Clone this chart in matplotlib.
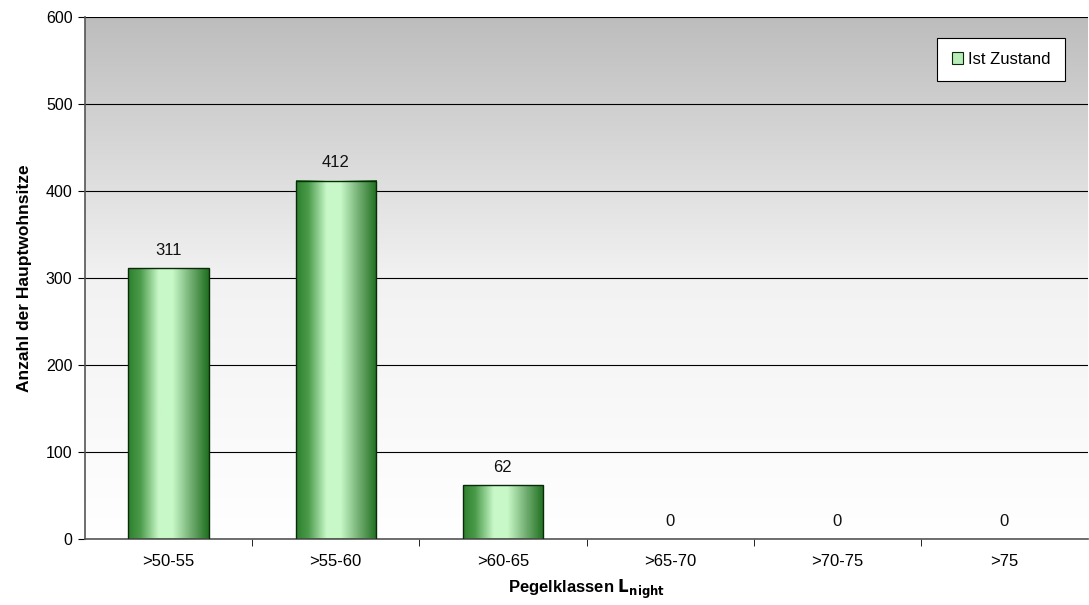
import numpy as np
import matplotlib
matplotlib.use('Agg')
import matplotlib.pyplot as plt
from matplotlib.colors import LinearSegmentedColormap
from matplotlib.patches import Patch

plt.rcParams['font.family'] = ['Liberation Sans', 'DejaVu Sans']

# Pegelklassen and number of main residences per class
categories = ['>50-55', '>55-60', '>60-65', '>65-70', '>70-75', '>75']
values = [311, 412, 62, 0, 0, 0]
series_name = 'Ist Zustand'

fig = plt.figure(figsize=(10.89, 6.05), dpi=100)
ax = fig.add_axes([85 / 1089, 66 / 605, 1003 / 1089, 522 / 605])

x = np.arange(len(categories))
ymax = 600
bar_w = 0.48

# grey-to-white background gradient
bg = np.linspace(0, 1, 256).reshape(-1, 1)
bg_cmap = LinearSegmentedColormap.from_list('bg', ['#ffffff', '#f2f2f2', '#bdbdbd'])
ax.imshow(bg, cmap=bg_cmap, aspect='auto', extent=[0, 1, 0, 1],
          transform=ax.transAxes, origin='lower', zorder=0)

# horizontal green shading for the bars
bar_cmap = LinearSegmentedColormap.from_list(
    'bar', [(0.0, '#2d7f2d'), (0.15, '#4a9a4a'), (0.38, '#c8f8c8'),
            (0.55, '#c8f8c8'), (0.8, '#6aa86a'), (1.0, '#1f6f1f')])
grad = np.linspace(0, 1, 256).reshape(1, -1)

for xi, v in zip(x, values):
    if v > 0:
        left = xi - bar_w / 2
        ax.imshow(grad, cmap=bar_cmap, aspect='auto', zorder=2,
                  extent=[left, left + bar_w, 0, v])
        ax.bar(xi, v, width=bar_w, facecolor='none', edgecolor='#0a2a0a',
               linewidth=1.0, zorder=3)
    ax.text(xi, v + 12, str(v), ha='center', va='bottom', fontsize=12,
            color='#111111', zorder=4)

ax.set_xlim(-0.5, len(categories) - 0.5)
ax.set_ylim(0, ymax)

ax.set_yticks(np.arange(0, ymax + 1, 100))
ax.yaxis.grid(True, color='black', linewidth=0.8, zorder=1)
ax.set_axisbelow(True)
ax.tick_params(axis='y', direction='out', length=5, labelsize=11.5, pad=4)

ax.set_xticks(x)
ax.set_xticklabels(categories, fontsize=12)
ax.set_xticks(np.arange(0.5, len(categories) - 0.5, 1), minor=True)
ax.tick_params(axis='x', which='major', length=0, pad=11)
ax.tick_params(axis='x', which='minor', direction='out', length=5)

for s in ['top', 'right']:
    ax.spines[s].set_visible(False)
ax.spines['left'].set_color('#555555')
ax.spines['bottom'].set_color('#555555')
ax.spines['left'].set_linewidth(1.2)
ax.spines['bottom'].set_linewidth(1.2)

ax.set_ylabel('Anzahl der Hauptwohnsitze', fontsize=12.5, fontweight='bold', labelpad=10)
ax.set_xlabel(r'Pegelklassen $\mathbf{L_{night}}$', fontsize=12, fontweight='bold', labelpad=6)

handle = Patch(facecolor='#b8ecb8', edgecolor='#0a2a0a', linewidth=0.8)
leg = ax.legend([handle], [series_name], loc='upper right', bbox_to_anchor=(0.977, 0.96),
                borderaxespad=0, fontsize=12, frameon=True, fancybox=False,
                edgecolor='black', handlelength=0.7, handleheight=0.7,
                handletextpad=0.3, borderpad=0.85, framealpha=1)
leg.get_frame().set_linewidth(0.8)

fig.savefig('out.png', dpi=100)
